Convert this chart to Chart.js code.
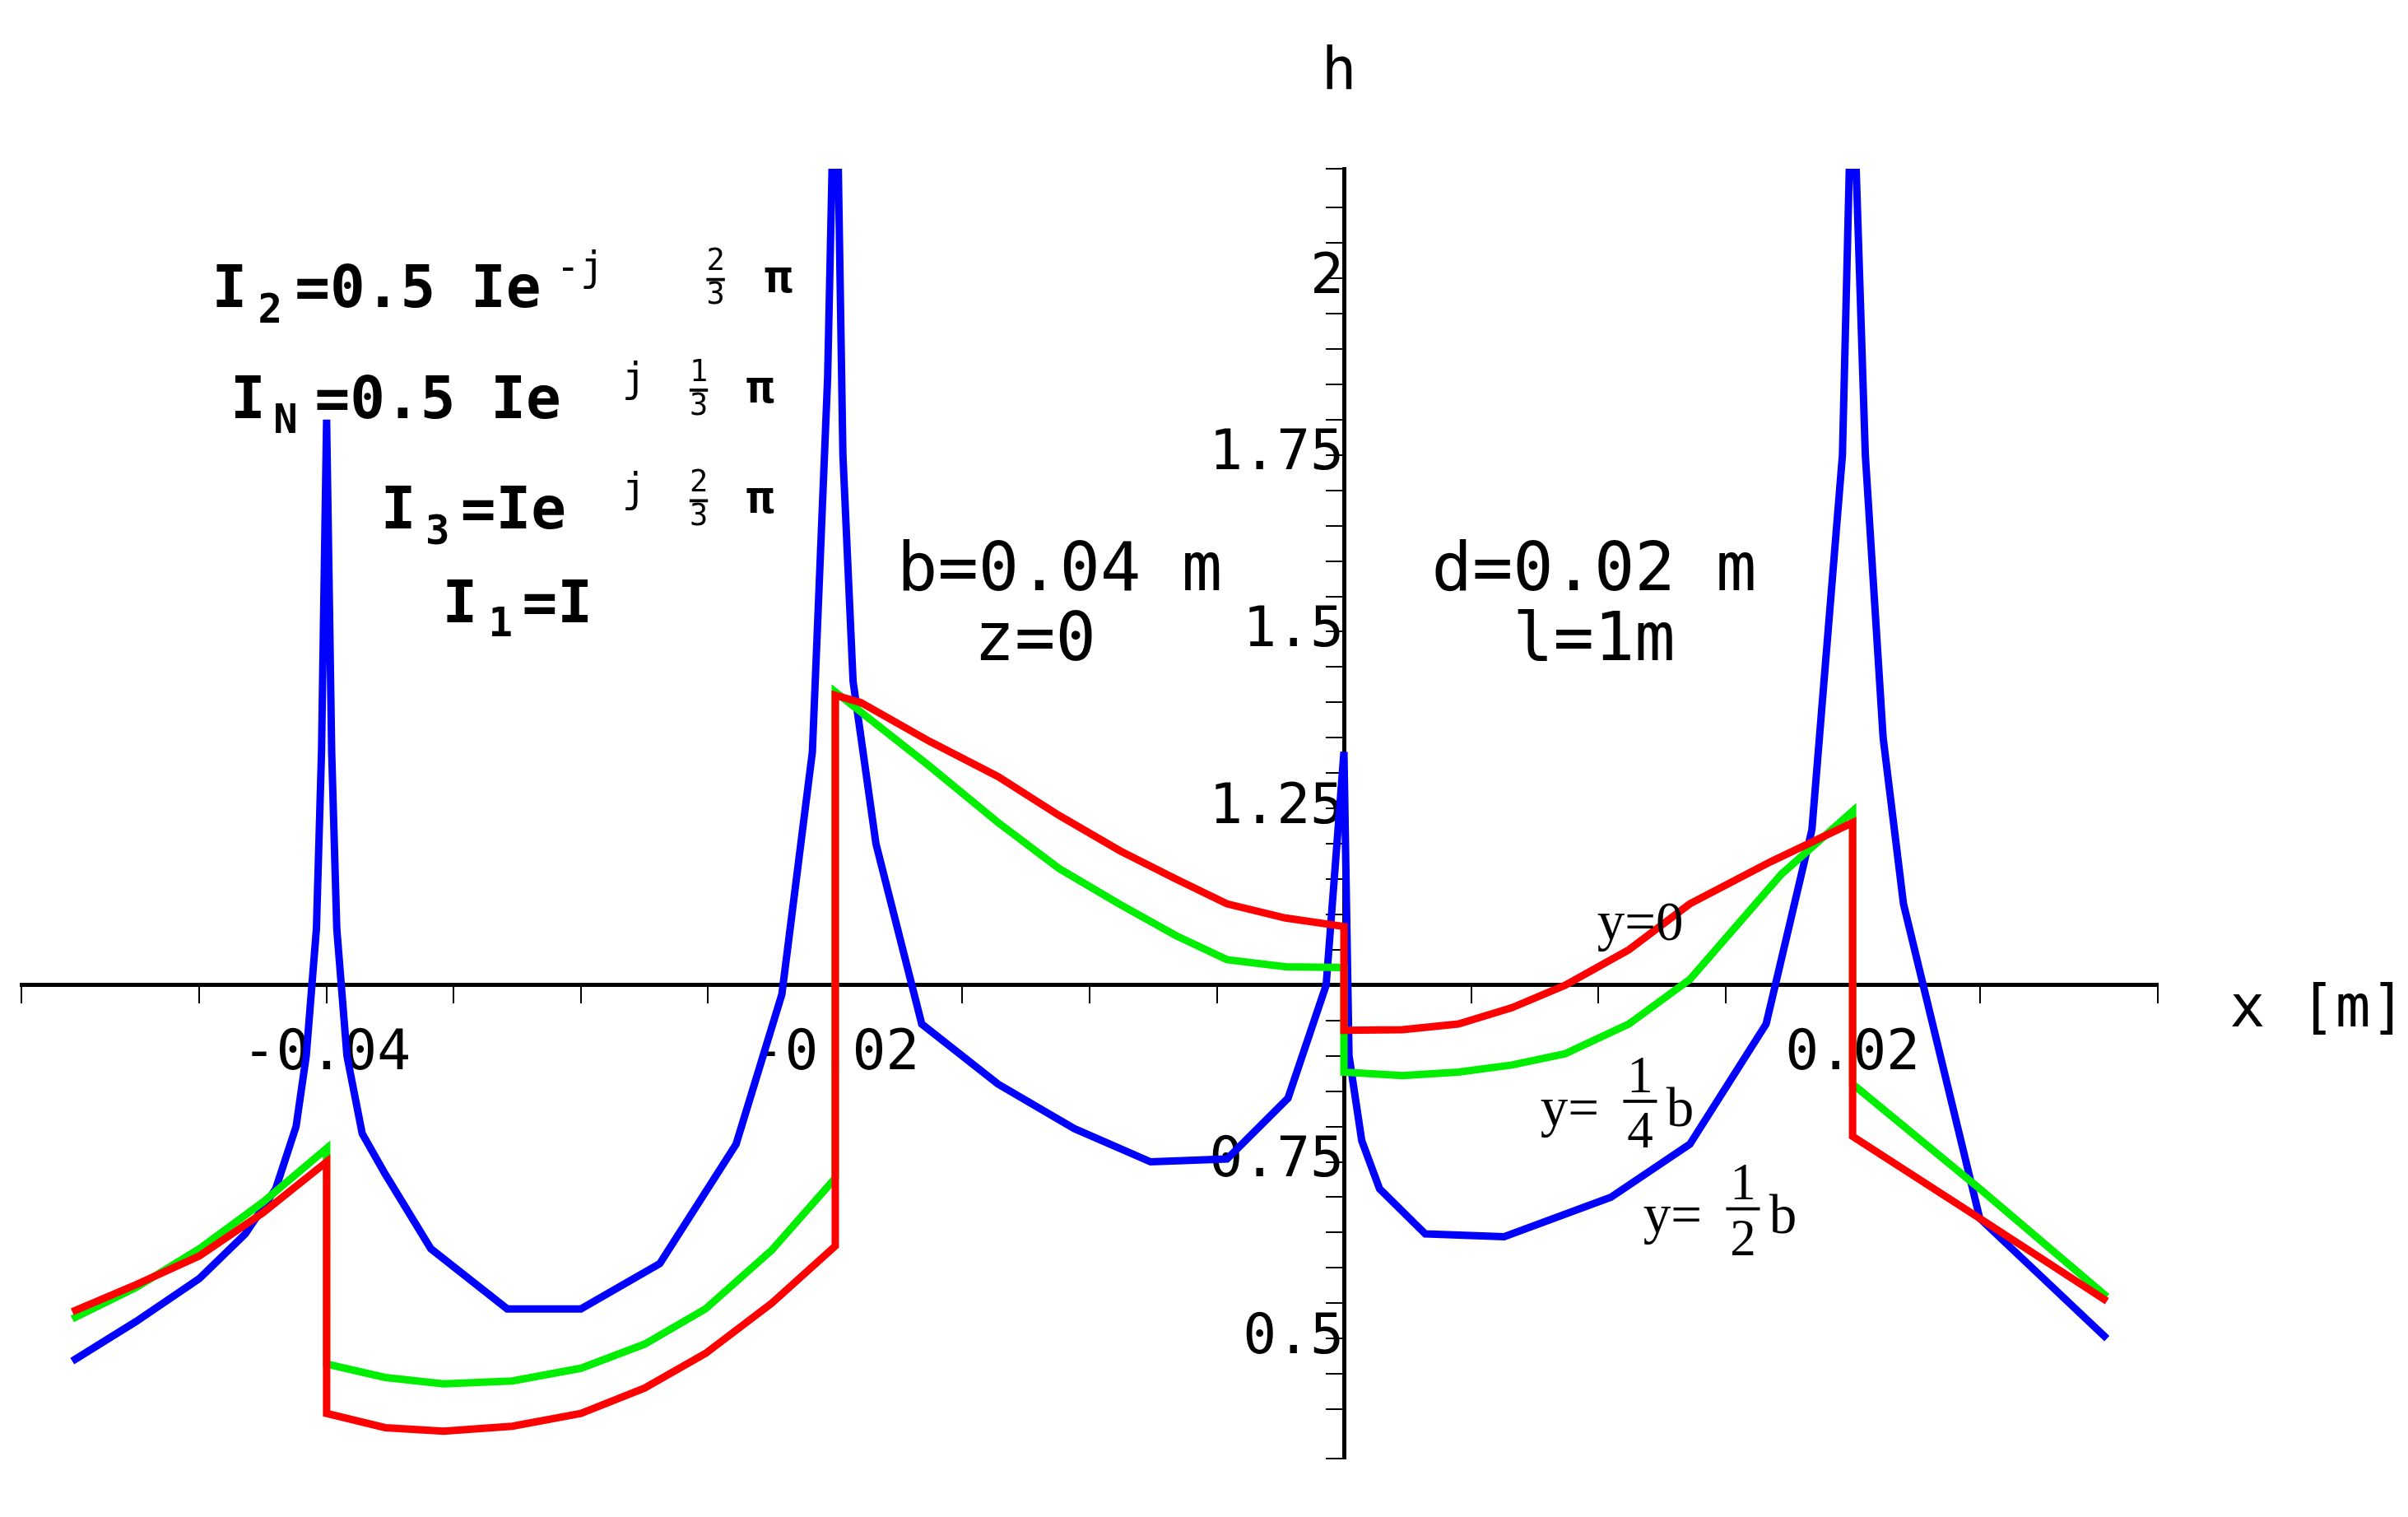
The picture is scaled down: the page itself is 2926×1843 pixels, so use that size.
<!DOCTYPE html>
<html>
<head>
<meta charset="utf-8"/>
<script src="https://cdn.jsdelivr.net/npm/chart.js"></script>
<style>
html, body { margin: 0; padding: 0; background: #fff; }
#wrap { width: 2926px; height: 1843px; }
</style>
</head>
<body>
<div id="wrap"><canvas id="c" width="2926" height="1843"></canvas></div>
<script>
// values: x [m], h
const redX = [-0.05, -0.0475, -0.045, -0.0425, -0.04, -0.04, -0.0377, -0.0354, -0.0327, -0.03, -0.0275, -0.0251, -0.0225, -0.02, -0.02, -0.019, -0.0163, -0.0136, -0.0112, -0.0088, -0.0066, -0.0046, -0.0023, 0, 0, 0.0023, 0.0045, 0.0066, 0.0087, 0.0112, 0.0136, 0.0168, 0.02, 0.02, 0.025, 0.03];
const redH = [0.538, 0.576, 0.617, 0.678, 0.75, 0.394, 0.374, 0.369, 0.376, 0.394, 0.43, 0.479, 0.55, 0.631, 1.41, 1.40, 1.345, 1.295, 1.24, 1.19, 1.15, 1.115, 1.095, 1.083, 0.936, 0.937, 0.945, 0.968, 1.0, 1.05, 1.115, 1.175, 1.23, 0.786, 0.67, 0.553];

const greenX = [-0.05, -0.0475, -0.045, -0.0425, -0.04, -0.04, -0.0377, -0.0354, -0.0327, -0.03, -0.0275, -0.0251, -0.0225, -0.02, -0.02, -0.0163, -0.0136, -0.0112, -0.0088, -0.0066, -0.0046, -0.0023, 0, 0, 0.0023, 0.0045, 0.0066, 0.0087, 0.0112, 0.0136, 0.0172, 0.02, 0.02, 0.025, 0.03];
const greenH = [0.528, 0.572, 0.627, 0.693, 0.769, 0.464, 0.445, 0.436, 0.44, 0.458, 0.492, 0.542, 0.625, 0.727, 1.415, 1.31, 1.23, 1.165, 1.114, 1.07, 1.036, 1.026, 1.025, 0.877, 0.872, 0.877, 0.887, 0.903, 0.945, 1.008, 1.157, 1.246, 0.86, 0.712, 0.559];

const blueX = [-0.05, -0.0475, -0.045, -0.0432, -0.042, -0.0412, -0.0408, -0.0404, -0.0402, -0.04, -0.0398, -0.0396, -0.0392, -0.0386, -0.0377, -0.0359, -0.0329, -0.03, -0.0269, -0.0239, -0.0221, -0.0209, -0.0203, -0.0201, -0.02, -0.0199, -0.0197, -0.0193, -0.0184, -0.0166, -0.0136, -0.0106, -0.0076, -0.0046, -0.0022, -0.0007, 0, 0.0002, 0.0007, 0.0014, 0.0032, 0.0063, 0.0105, 0.0136, 0.0166, 0.0184, 0.0196, 0.0199, 0.02, 0.0201, 0.0205, 0.0212, 0.022, 0.025, 0.03];
const blueH = [0.468, 0.524, 0.585, 0.648, 0.712, 0.80, 0.90, 1.08, 1.33, 1.80, 1.33, 1.08, 0.90, 0.79, 0.733, 0.627, 0.542, 0.542, 0.606, 0.775, 0.987, 1.33, 1.86, 2.2, 2.4, 2.2, 1.75, 1.43, 1.2, 0.945, 0.86, 0.797, 0.75, 0.754, 0.84, 1.0, 1.33, 0.90, 0.78, 0.712, 0.648, 0.644, 0.70, 0.775, 0.945, 1.22, 1.75, 2.2, 2.4, 2.2, 1.75, 1.35, 1.115, 0.67, 0.5];

const xLabels = [-0.04, -0.02, 0.02];
const hLabels = [0.5, 0.75, 1.25, 1.5, 1.75, 2];

const pts = (xs, hs) => xs.map((x, i) => ({ x: x, y: hs[i] }));

// text placed in the coordinates of the displayed reference (1568 wide)
const S = 2926 / 1568;
const annotations = {
  id: 'annotations',
  afterDraw(chart) {
    const ctx = chart.ctx;
    ctx.save();
    ctx.fillStyle = '#000';
    ctx.textBaseline = 'alphabetic';
    const mono = sz => `bold ${Math.round(sz * S)}px "DejaVu Sans Mono"`;
    const monoL = sz => `${Math.round(sz * S)}px "DejaVu Sans Mono"`;
    const serif = sz => `${Math.round(sz * S)}px "Liberation Serif"`;
    function t(str, x, y, font, align) {
      ctx.font = font;
      ctx.textAlign = align || 'left';
      ctx.fillText(str, x * S, y * S);
    }
    function frac(n, d, x, y, font, w) {
      w = w || 12;
      t(n, x, y - 14, font, 'center');
      ctx.fillRect((x - w / 2) * S, (y - 9) * S, w * S, 2 * S);
      t(d, x, y + 8 + (w > 12 ? 14 : 0), font, 'center');
    }
    t('h', 872, 58, monoL(38), 'center');
    t('x [m]', 1452, 668, monoL(38));

    t('I', 138, 200, mono(38)); t('2', 168, 210, mono(26)); t('=0.5 Ie', 192, 200, mono(38));
    t('-j', 362, 183, monoL(26)); frac('2', '3', 466, 190, monoL(20)); t('π', 498, 190, mono(30));
    t('I', 150, 272, mono(38)); t('N', 178, 282, mono(26)); t('=0.5 Ie', 205, 272, mono(38));
    t('j', 405, 255, monoL(26)); frac('1', '3', 455, 262, monoL(20)); t('π', 486, 262, mono(30));
    t('I', 248, 344, mono(38)); t('3', 277, 354, mono(26)); t('=Ie', 300, 344, mono(38));
    t('j', 405, 327, monoL(26)); frac('2', '3', 455, 334, monoL(20)); t('π', 486, 334, mono(30));
    t('I', 288, 405, mono(38)); t('1', 318, 414, mono(26)); t('=I', 340, 405, mono(38));

    t('b=0.04 m', 690, 384, monoL(44), 'center');
    t('z=0', 674, 430, monoL(44), 'center');
    t('d=0.02 m', 1038, 384, monoL(44), 'center');
    t('l=1m', 1038, 430, monoL(44), 'center');

    t('y=0', 1040, 612, serif(36));
    t('y=', 1003, 733, serif(36)); frac('1', '4', 1068, 725, serif(34), 22); t('b', 1085, 733, serif(36));
    t('y=', 1070, 803, serif(36)); frac('1', '2', 1135, 795, serif(34), 22); t('b', 1152, 803, serif(36));
    ctx.restore();
  }
};

function labelX(v) {
  const k = Math.round(v * 1000);
  return (xLabels.some(l => Math.round(l * 1000) === k)) ? v.toFixed(2) : '';
}
function labelH(v) {
  const k = Math.round(v * 100);
  return (hLabels.some(l => Math.round(l * 100) === k)) ? String(parseFloat(v.toFixed(2))) : '';
}

new Chart(document.getElementById('c'), {
  type: 'scatter',
  data: {
    datasets: [
      { label: 'y=0', data: pts(redX, redH), borderColor: '#ff0000' },
      { label: 'y=b/4', data: pts(greenX, greenH), borderColor: '#00ee00' },
      { label: 'y=b/2', data: pts(blueX, blueH), borderColor: '#0000ff' }
    ].map(d => Object.assign(d, { showLine: true, borderWidth: 9, pointRadius: 0, tension: 0, fill: false }))
  },
  options: {
    responsive: false,
    animation: false,
    events: [],
    layout: { padding: { left: 26, right: 304, top: 205, bottom: 5 } },
    plugins: { legend: { display: false }, tooltip: { enabled: false } },
    scales: {
      x: {
        type: 'linear', min: -0.052, max: 0.032, position: { y: 1 },
        border: { color: '#000', width: 5 },
        grid: { drawOnChartArea: false, drawTicks: true, tickLength: 20, color: '#000', lineWidth: 2 },
        ticks: { stepSize: 0.005, autoSkip: false, maxRotation: 0, padding: 24, color: '#000',
          font: { family: 'DejaVu Sans Mono', size: 68 }, callback: labelX }
      },
      y: {
        type: 'linear', min: 0.33, max: 2.155, position: { x: 0 },
        border: { color: '#000', width: 5 },
        grid: { drawOnChartArea: false, drawTicks: true, tickLength: 20, color: '#000', lineWidth: 2 },
        ticks: { stepSize: 0.05, autoSkip: false, padding: 30, color: '#000',
          font: { family: 'DejaVu Sans Mono', size: 68 }, callback: labelH }
      }
    }
  },
  plugins: [annotations]
});
</script>
</body>
</html>
